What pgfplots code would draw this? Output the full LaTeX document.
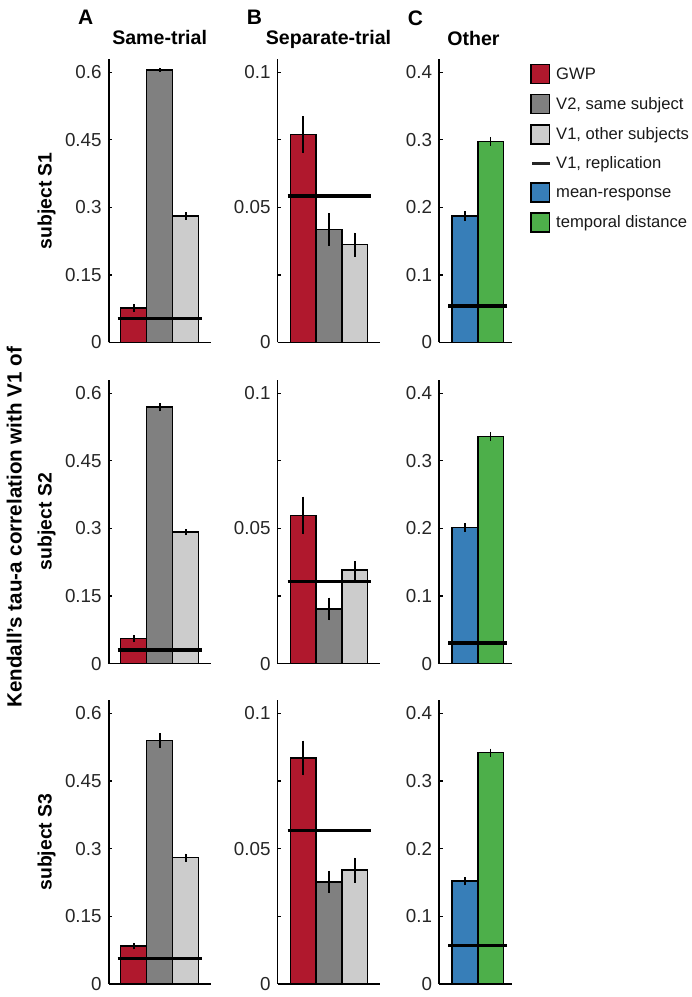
\documentclass[border=0pt]{standalone}
\usepackage{fontspec}
\setmainfont{Liberation Sans}
\usepackage{pgfplots}
\pgfplotsset{compat=1.18}

\definecolor{gwp}{HTML}{B0182D}
\definecolor{vtwo}{HTML}{808080}
\definecolor{vone}{HTML}{CCCCCC}
\definecolor{meanresp}{HTML}{377EB8}
\definecolor{tempdist}{HTML}{4DAF4A}
\definecolor{tickgray}{HTML}{262626}

\pgfplotsset{
  panel/.style={
    scale only axis, height=142pt, anchor=south west,
    axis x line*=bottom, axis y line*=left,
    axis line style={-, line width=0.9pt, black},
    xtick=\empty, ymin=0,
    tick align=inside, major tick length=1.75pt,
    ytick style={line width=0.6pt, black},
    yticklabel style={font=\fontsize{9.4}{11}\selectfont, text=tickgray},
    /pgf/number format/assume math mode=true,
    clip=false,
  },
  colA/.style={panel, width=51pt, xmin=0.04, xmax=3.96, ymax=0.63,
    ytick={0,0.15,0.3,0.45,0.6}, yticklabels={0,0.15,0.3,0.45,0.6}},
  colB/.style={panel, width=51.5pt, xmin=0, xmax=4, ymax=0.105,
    ytick={0,0.025,0.05,0.075,0.1}, yticklabels={0,,0.05,,0.1}},
  colC/.style={panel, width=36.65pt, xmin=0, xmax=2.85, ymax=0.42,
    ytick={0,0.1,0.2,0.3,0.4}, yticklabels={0,0.1,0.2,0.3,0.4}},
  bar/.style={ybar, bar width=1, draw=black, line width=0.85pt, fill=#1, forget plot,
    error bars/.cd, y dir=both, y explicit, error mark=none,
    error bar style={line width=0.9pt, black}},
  rep/.style={black, line width=1.65pt, forget plot},
  legbox/.style={legend image code/.code={\draw[line width=0.7pt] (0pt,-4.75pt) rectangle (9.5pt,4.75pt);}},
  legline/.style={legend image code/.code={\draw[line width=1.4pt] (0.8pt,0pt) -- (9.5pt,0pt);}},
}

\begin{document}
\begin{tikzpicture}
\path (0,0) rectangle (345pt,-498.5pt);

% panel letters and column titles
\node[font=\bfseries\fontsize{10.5}{12}\selectfont] at (42pt,-8.5pt) {A};
\node[font=\bfseries\fontsize{10.5}{12}\selectfont] at (126.5pt,-8.5pt) {B};
\node[font=\bfseries\fontsize{10.5}{12}\selectfont] at (207pt,-9pt) {C};
\node[font=\bfseries\fontsize{9.8}{12}\selectfont] at (79pt,-19pt) {Same-trial};
\node[font=\bfseries\fontsize{9.8}{12}\selectfont] at (163.5pt,-19.5pt) {Separate-trial};
\node[font=\bfseries\fontsize{9.8}{12}\selectfont] at (236pt,-19.5pt) {Other};

% row labels
\node[rotate=90, font=\bfseries\fontsize{10.3}{12}\selectfont] at (6.25pt,-263.75pt) {Kendall’s tau-a correlation with V1 of};
\node[rotate=90, font=\bfseries\fontsize{9.7}{12}\selectfont] at (22.5pt,-100.5pt) {subject S1};
\node[rotate=90, font=\bfseries\fontsize{9.7}{12}\selectfont] at (22.5pt,-261pt) {subject S2};
\node[rotate=90, font=\bfseries\fontsize{9.7}{12}\selectfont] at (22.5pt,-421.25pt) {subject S3};

% ---- subject S1 ----
\begin{axis}[colA, at={(53.5pt,-171.35pt)}]
\addplot[bar=gwp] coordinates {(1,0.077) +- (0,0.009)};
\addplot[bar=vtwo] coordinates {(2,0.605) +- (0,0.005)};
\addplot[bar=vone] coordinates {(3,0.281) +- (0,0.008)};
\addplot[rep] coordinates {(0.38,0.054) (3.62,0.054)};
\end{axis}
\begin{axis}[colB, at={(138pt,-171.35pt)}]
\addplot[bar=gwp] coordinates {(1,0.0769) +- (0,0.0068)};
\addplot[bar=vtwo] coordinates {(2,0.0418) +- (0,0.006)};
\addplot[bar=vone] coordinates {(3,0.0362) +- (0,0.0044)};
\addplot[rep] coordinates {(0.39,0.0542) (3.65,0.0542)};
\end{axis}
\begin{axis}[colC, at={(218.85pt,-171.35pt)},
  legend style={at={(1.236,0.983)}, anchor=north west, draw=none, fill=none,
    inner sep=0pt, row sep=4.9pt, font=\fontsize{8.3}{10}\selectfont,
    text=black!90, nodes={inner sep=0pt, text height=7pt, text depth=2pt},
    /tikz/every odd column/.style={column sep=2.5pt}},
  legend cell align=left]
\addplot[bar=meanresp] coordinates {(1,0.187) +- (0,0.007)};
\addplot[bar=tempdist] coordinates {(2,0.2975) +- (0,0.0066)};
\addplot[rep] coordinates {(0.36,0.054) (2.65,0.054)};
\addlegendimage{legbox, fill=gwp, draw=black}
\addlegendentry{GWP}
\addlegendimage{legbox, fill=vtwo, draw=black}
\addlegendentry{V2, same subject}
\addlegendimage{legbox, fill=vone, draw=black}
\addlegendentry{V1, other subjects}
\addlegendimage{legline, black!85}
\addlegendentry{V1, replication}
\addlegendimage{legbox, fill=meanresp, draw=black}
\addlegendentry{mean-response}
\addlegendimage{legbox, fill=tempdist, draw=black}
\addlegendentry{temporal distance}
\end{axis}

% ---- subject S2 ----
\begin{axis}[colA, at={(53.5pt,-332pt)}]
\addplot[bar=gwp] coordinates {(1,0.0554) +- (0,0.008)};
\addplot[bar=vtwo] coordinates {(2,0.569) +- (0,0.009)};
\addplot[bar=vone] coordinates {(3,0.292) +- (0,0.007)};
\addplot[rep] coordinates {(0.38,0.030) (3.62,0.030)};
\end{axis}
\begin{axis}[colB, at={(138pt,-332pt)}]
\addplot[bar=gwp] coordinates {(1,0.0548) +- (0,0.007)};
\addplot[bar=vtwo] coordinates {(2,0.0202) +- (0,0.0042)};
\addplot[bar=vone] coordinates {(3,0.0345) +- (0,0.0034)};
\addplot[rep] coordinates {(0.39,0.0305) (3.65,0.0305)};
\end{axis}
\begin{axis}[colC, at={(218.85pt,-332pt)}]
\addplot[bar=meanresp] coordinates {(1,0.2016) +- (0,0.0064)};
\addplot[bar=tempdist] coordinates {(2,0.336) +- (0,0.006)};
\addplot[rep] coordinates {(0.36,0.0305) (2.65,0.0305)};
\end{axis}

% ---- subject S3 ----
\begin{axis}[colA, at={(53.5pt,-492.15pt)}]
\addplot[bar=gwp] coordinates {(1,0.0834) +- (0,0.007)};
\addplot[bar=vtwo] coordinates {(2,0.540) +- (0,0.016)};
\addplot[bar=vone] coordinates {(3,0.280) +- (0,0.009)};
\addplot[rep] coordinates {(0.38,0.0565) (3.62,0.0565)};
\end{axis}
\begin{axis}[colB, at={(138pt,-492.15pt)}]
\addplot[bar=gwp] coordinates {(1,0.0835) +- (0,0.0064)};
\addplot[bar=vtwo] coordinates {(2,0.0376) +- (0,0.0041)};
\addplot[bar=vone] coordinates {(3,0.042) +- (0,0.0046)};
\addplot[rep] coordinates {(0.39,0.0567) (3.65,0.0567)};
\end{axis}
\begin{axis}[colC, at={(218.85pt,-492.15pt)}]
\addplot[bar=meanresp] coordinates {(1,0.1515) +- (0,0.0061)};
\addplot[bar=tempdist] coordinates {(2,0.342) +- (0,0.0059)};
\addplot[rep] coordinates {(0.36,0.0567) (2.65,0.0567)};
\end{axis}
\end{tikzpicture}
\end{document}
